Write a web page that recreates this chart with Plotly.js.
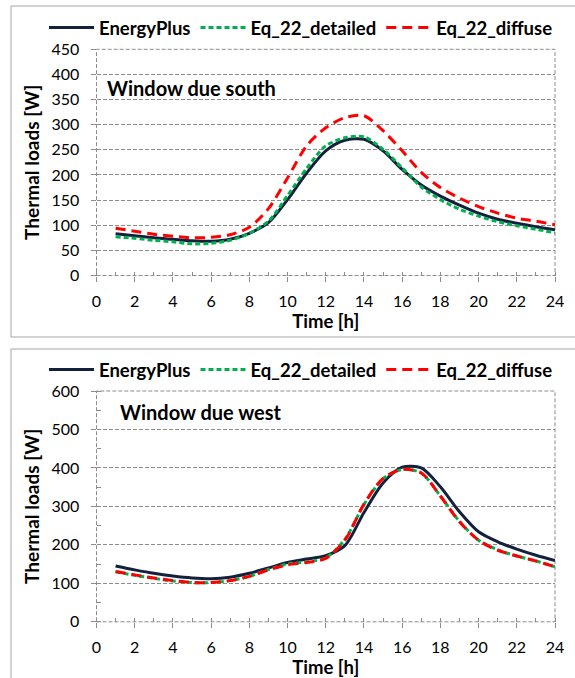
<!DOCTYPE html>
<html>
<head>
<meta charset="utf-8">
<script src="https://cdn.plot.ly/plotly-3.0.1.min.js"></script>
<style>
html,body{margin:0;padding:0;background:#fff;}
#chart{width:575px;height:678px;}
</style>
</head>
<body>
<div id="chart"></div>
<script>
// ---- data ----
const hours = [1,2,3,4,5,6,7,8,9,10,11,12,13,14,15,16,17,18,19,20,21,22,23,24];
const seriesNames = ["EnergyPlus", "Eq_22_detailed", "Eq_22_diffuse"];
const panelTitles = ["Window due south", "Window due west"];

// Window due south
const southEnergyPlus = [83,79,75,72,69,68,72,84,105,151,204,248,269,271,248,211,180,158,140,124,112,104,97,91];
const southDetailed   = [77,74,70,67,63,64,70,84,108,159,213,258,274,276,251,214,176,151,132,118,107,99,92,85];
const southDiffuse    = [94,88,82,78,75,76,81,96,133,194,258,294,314,318,288,248,205,175,154,137,124,114,108,101];

// Window due west
const westEnergyPlus = [145,135,126,119,114,112,116,126,140,154,163,172,198,284,361,402,400,351,286,234,208,189,173,159];
const westDetailed   = [130,121,113,106,102,102,107,118,136,150,156,166,214,305,372,396,387,327,261,212,187,171,158,143];
const westDiffuse    = [131,122,114,107,102,102,107,118,135,148,154,165,212,306,373,396,387,327,260,212,186,171,158,143];

const xTickVals = [0,2,4,6,8,10,12,14,16,18,20,22,24];

// ---- styling ----
const FONT = "Lato, 'Open Sans', sans-serif";
const colors = ["#14213D", "#00B050", "#FF0000"];
const dashes = ["solid", "5px,3px", "10px,6px"];
const gridColor = "#8C8C8C";

function mkTrace(y, i, xa, ya, leg) {
  return {
    x: hours, y: y, type: "scatter", mode: "lines",
    name: seriesNames[i], xaxis: xa, yaxis: ya, legend: leg,
    line: {color: colors[i], width: 3, dash: dashes[i], shape: "spline", smoothing: 0.8}
  };
}

const data = [
  mkTrace(southEnergyPlus, 0, "x", "y", "legend"),
  mkTrace(southDetailed, 1, "x", "y", "legend"),
  mkTrace(southDiffuse, 2, "x", "y", "legend"),
  mkTrace(westEnergyPlus, 0, "x2", "y2", "legend2"),
  mkTrace(westDetailed, 1, "x2", "y2", "legend2"),
  mkTrace(westDiffuse, 2, "x2", "y2", "legend2")
];

const H = 678, W = 575;
const px = v => v / W;
const py = v => 1 - v / H;

function xAxis(anchor) {
  return {
    anchor: anchor, domain: [px(96.5), px(555)], range: [0, 24],
    tickvals: xTickVals, ticks: "outside", ticklen: 5, tickcolor: gridColor, tickwidth: 1,
    minor: {dtick: 1, tick0: 0, ticks: "inside", ticklen: 4, tickcolor: gridColor, showgrid: false},
    showgrid: false, zeroline: false, showline: false,
    tickfont: {family: FONT, size: 16, color: "#000"},
    ticklabelstandoff: 6,
    title: {text: "Time [h]", font: {family: FONT, size: 18.5, color: "#000", weight: "bold"}, standoff: 4},
    automargin: false
  };
}
function yAxis(anchor, domain, maxV, dt, minorDt) {
  const ax = {
    anchor: anchor, domain: domain, range: [0, maxV], dtick: dt, tick0: 0,
    ticks: "outside", ticklen: 5, tickcolor: gridColor, tickwidth: 1,
    showgrid: true, gridcolor: gridColor, griddash: "4px,2px", gridwidth: 1,
    zeroline: false, showline: false,
    tickfont: {family: FONT, size: 16, color: "#000"},
    ticklabelstandoff: 8,
    title: {text: "Thermal loads [W]", font: {family: FONT, size: 19, color: "#000", weight: "bold"}, standoff: 6},
    automargin: false
  };
  if (minorDt) ax.minor = {dtick: minorDt, ticks: "inside", ticklen: 4, tickcolor: gridColor, showgrid: false};
  return ax;
}

const legendFont = {family: FONT, size: 18.5, color: "#000", weight: "bold"};
function mkLegend(yc) {
  return {
    orientation: "h", x: px(44), xanchor: "left", y: py(yc), yanchor: "middle",
    font: legendFont, bgcolor: "rgba(0,0,0,0)", borderwidth: 0,
    itemwidth: 45, tracegroupgap: 0, itemclick: false
  };
}

const dashedRect = (xr, yr) => ({
  type: "rect", xref: xr + " domain", yref: yr + " domain", x0: 0, x1: 1, y0: 0, y1: 1,
  line: {color: gridColor, width: 1, dash: "4px,2px"}, layer: "below"
});

const layout = {
  width: W, height: H,
  margin: {l: 0, r: 0, t: 0, b: 0},
  paper_bgcolor: "#fff", plot_bgcolor: "#fff",
  showlegend: true,
  xaxis: xAxis("y"),
  yaxis: yAxis("x", [py(275.5), py(49.3)], 450, 50, null),
  xaxis2: xAxis("y2"),
  yaxis2: yAxis("x2", [py(621.8), py(391)], 600, 100, 50),
  legend: mkLegend(28),
  legend2: mkLegend(370),
  annotations: [
    {text: panelTitles[0], xref: "paper", yref: "paper", x: px(105), y: py(88), xanchor: "left", yanchor: "middle",
     showarrow: false, font: {family: FONT, size: 20, color: "#000", weight: "bold"}},
    {text: panelTitles[1], xref: "paper", yref: "paper", x: px(118), y: py(411.7), xanchor: "left", yanchor: "middle",
     showarrow: false, font: {family: FONT, size: 20, color: "#000", weight: "bold"}}
  ],
  shapes: [
    dashedRect("x", "y"),
    dashedRect("x2", "y2"),
    {type: "rect", xref: "paper", yref: "paper", x0: px(11), x1: 1.05, y0: py(337), y1: py(6),
     line: {color: "#A6A6A6", width: 1}, layer: "below"},
    {type: "rect", xref: "paper", yref: "paper", x0: px(11), x1: 1.05, y0: -0.05, y1: py(349),
     line: {color: "#A6A6A6", width: 1}, layer: "below"}
  ]
};

Plotly.newPlot("chart", data, layout, {staticPlot: true, displayModeBar: false});
</script>
</body>
</html>
